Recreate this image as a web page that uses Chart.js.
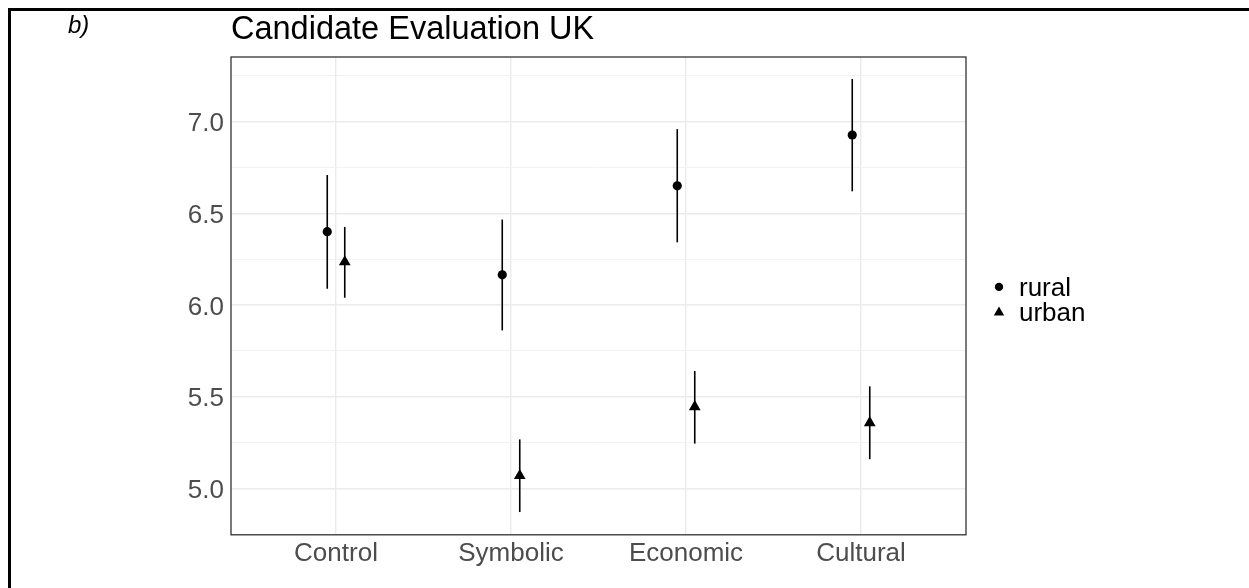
<!DOCTYPE html>
<html>
<head>
<meta charset="utf-8">
<title>Candidate Evaluation UK</title>
<script src="https://cdn.jsdelivr.net/npm/chart.js"></script>
<style>
    html, body { margin: 0; padding: 0; background: #fff; }
    #wrap { width: 1249px; height: 588px; }
</style>
</head>
<body>
<div id="wrap"><canvas id="chart" width="1249" height="588"></canvas></div>
<script>
// values
var categories = ['Control', 'Symbolic', 'Economic', 'Cultural'];
var seriesNames = ['rural', 'urban'];
var ruralMean = [6.40, 6.165, 6.65, 6.927];
var ruralLow = [6.089, 5.862, 6.342, 6.620];
var ruralHigh = [6.709, 6.466, 6.959, 7.232];
var urbanMean = [6.235, 5.070, 5.445, 5.358];
var urbanLow = [6.040, 4.872, 5.245, 5.160];
var urbanHigh = [6.426, 5.268, 5.641, 5.557];
var yTicks = [5.0, 5.5, 6.0, 6.5, 7.0];
var yMinorTicks = [4.75, 5.25, 5.75, 6.25, 6.75, 7.25];
var yRange = [4.748, 7.352];

var dodge = 0.05;
var font = "'Liberation Sans', Arial, Helvetica, sans-serif";

function toPoints(values, shift) {
    return values.map(function (v, i) {
        return { x: i + 1 + shift, y: v };
    });
}

function isMajor(v) {
    return yTicks.indexOf(v) >= 0;
}

//vertical lines for the intervals
var errorBars = {
    id: 'errorBars',
    beforeDatasetsDraw: function (chart) {
        var ctx = chart.ctx;
        var xs = chart.scales.x;
        var ys = chart.scales.y;
        var groups = [[ruralLow, ruralHigh, -dodge], [urbanLow, urbanHigh, dodge]];
        ctx.save();
        ctx.strokeStyle = '#000';
        ctx.lineWidth = 1.6;
        groups.forEach(function (g) {
            g[0].forEach(function (lo, i) {
                var px = xs.getPixelForValue(i + 1 + g[2]);
                ctx.beginPath();
                ctx.moveTo(px, ys.getPixelForValue(lo));
                ctx.lineTo(px, ys.getPixelForValue(g[1][i]));
                ctx.stroke();
            });
        });
        ctx.restore();
    }
};

// page frame, panel border, tag and legend
var frame = {
    id: 'frame',
    beforeDraw: function (chart) {
        var ctx = chart.ctx;
        ctx.save();
        ctx.fillStyle = '#fff';
        ctx.fillRect(0, 0, chart.width, chart.height);
        ctx.fillStyle = '#000';
        ctx.fillRect(8, 8, chart.width - 8, 3);
        ctx.fillRect(8, 8, 3, chart.height - 8);
        ctx.font = 'italic 24px ' + font;
        ctx.textBaseline = 'alphabetic';
        ctx.fillText('b)', 68, 33);
        ctx.restore();
    },
    afterDraw: function (chart) {
        var ctx = chart.ctx;
        var a = chart.chartArea;
        ctx.save();
        ctx.strokeStyle = '#333333';
        ctx.lineWidth = 1.3;
        ctx.strokeRect(a.left, a.top, a.right - a.left, a.bottom - a.top);

        var cx = a.right + 33;
        var midY = (a.top + a.bottom) / 2;
        ctx.fillStyle = '#000';
        ctx.beginPath();
        ctx.arc(cx, midY - 9, 4.2, 0, Math.PI * 2);
        ctx.fill();
        var ty = midY + 16.5, r = 6;
        ctx.beginPath();
        ctx.moveTo(cx, ty - r);
        ctx.lineTo(cx + r * Math.sin(Math.PI / 3), ty + r / 2);
        ctx.lineTo(cx - r * Math.sin(Math.PI / 3), ty + r / 2);
        ctx.closePath();
        ctx.fill();
        ctx.font = '26px ' + font;
        ctx.textBaseline = 'alphabetic';
        ctx.fillText(seriesNames[0], cx + 20, midY);
        ctx.fillText(seriesNames[1], cx + 20, midY + 25.5);
        ctx.restore();
    }
};

var config = {
    type: 'scatter',
    data: {
        datasets: [{
            label: seriesNames[0],
            data: toPoints(ruralMean, -dodge),
            pointStyle: 'circle',
            pointRadius: 4.6,
            pointBorderWidth: 0,
            backgroundColor: '#000',
            borderColor: '#000'
        }, {
            label: seriesNames[1],
            data: toPoints(urbanMean, dodge),
            pointStyle: 'triangle',
            pointRadius: 6.8,
            pointBorderWidth: 0,
            backgroundColor: '#000',
            borderColor: '#000'
        }]
    },
    options: {
        responsive: false,
        animation: false,
        devicePixelRatio: 1,
        layout: {
            padding: { left: 0, right: 283, top: 0, bottom: 16 }
        },
        plugins: {
            legend: { display: false },
            tooltip: { enabled: false },
            title: {
                display: true,
                text: 'Candidate Evaluation UK',
                align: 'start',
                fullSize: false,
                color: '#000',
                font: { family: font, size: 32.5, weight: 'normal' },
                padding: { top: 11, bottom: 7 }
            }
        },
        scales: {
            x: {
                type: 'linear',
                min: 0.4,
                max: 4.6,
                afterBuildTicks: function (scale) {
                    scale.ticks = categories.map(function (c, i) {
                        return { value: i + 1 };
                    });
                },
                ticks: {
                    autoSkip: false,
                    maxRotation: 0,
                    padding: 3,
                    color: '#4d4d4d',
                    font: { family: font, size: 26 },
                    callback: function (value) {
                        return categories[Math.round(value) - 1];
                    }
                },
                grid: {
                    color: '#ebebeb',
                    lineWidth: 1.4,
                    drawTicks: false
                },
                border: { display: false }
            },
            y: {
                min: yRange[0],
                max: yRange[1],
                afterFit: function (scale) {
                    scale.width = 231;
                },
                afterBuildTicks: function (scale) {
                    scale.ticks = yTicks.concat(yMinorTicks).sort(function (a, b) {
                        return a - b;
                    }).map(function (v) {
                        return { value: v };
                    });
                },
                ticks: {
                    padding: 7,
                    labelOffset: 2.5,
                    color: '#4d4d4d',
                    font: { family: font, size: 26 },
                    callback: function (value) {
                        return isMajor(value) ? value.toFixed(1) : '';
                    }
                },
                grid: {
                    color: function (c) {
                        return isMajor(c.tick.value) ? '#ebebeb' : '#f1f1f1';
                    },
                    lineWidth: function (c) {
                        return isMajor(c.tick.value) ? 1.4 : 0.9;
                    },
                    drawTicks: false
                },
                border: { display: false }
            }
        }
    },
    plugins: [errorBars, frame]
};

window.onload = function () {
    var ctx = document.getElementById('chart').getContext('2d');
    window.myChart = new Chart(ctx, config);
};
</script>
</body>
</html>
